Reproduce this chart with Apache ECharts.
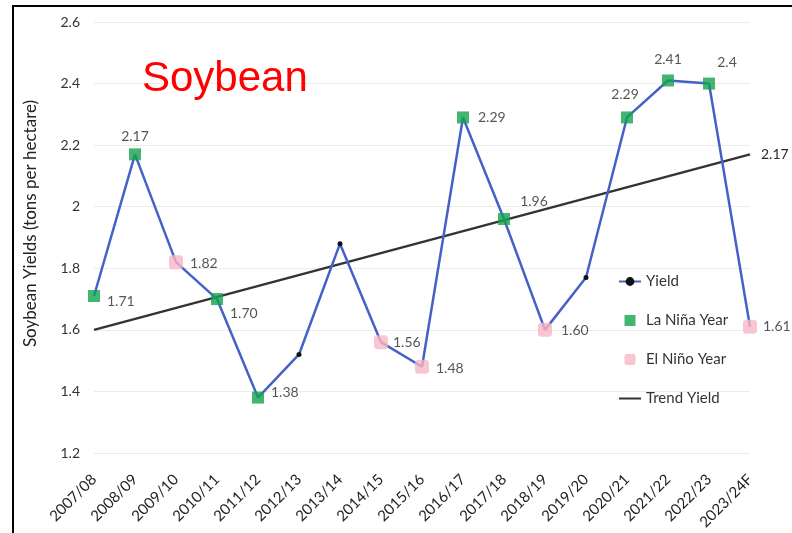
<!DOCTYPE html>
<html>
<head>
<meta charset="utf-8">
<script src="https://cdn.jsdelivr.net/npm/echarts@6/dist/echarts.min.js"></script>
<style>html,body{margin:0;padding:0;background:#fff}#c{width:792px;height:533px}</style>
</head>
<body>
<div id="c"></div>
<script>
const categories = ['2007/08','2008/09','2009/10','2010/11','2011/12','2012/13','2013/14','2014/15','2015/16','2016/17','2017/18','2018/19','2019/20','2020/21','2021/22','2022/23','2023/24F'];
const yieldValues = [1.71, 2.17, 1.82, 1.70, 1.38, 1.52, 1.88, 1.56, 1.48, 2.29, 1.96, 1.60, 1.77, 2.29, 2.41, 2.40, 1.61];
const laNinaValues = [1.71, 2.17, null, 1.70, 1.38, null, null, null, null, 2.29, 1.96, null, null, 2.29, 2.41, 2.40, null];
const elNinoValues = [null, null, 1.82, null, null, null, null, 1.56, 1.48, null, null, 1.60, null, null, null, null, 1.61];
const labelTexts = ['1.71','2.17','1.82','1.70','1.38',null,null,'1.56','1.48','2.29','1.96','1.60',null,'2.29','2.41','2.4','1.61'];
const trendValues = [1.60, null, null, null, null, null, null, null, null, null, null, null, null, null, null, null, 2.17];
const trendLabel = '2.17';
const yTicks = [1.2, 1.4, 1.6, 1.8, 2.0, 2.2, 2.4, 2.6];

// label placement per point (style only)
const labelPlace = {
  0: {position: 'right', offset: [2, 5]},
  1: {position: 'top', offset: [0, 0]},
  2: {position: 'right', offset: [2, 1]},
  3: {position: 'right', offset: [2, 14]},
  4: {position: 'right', offset: [2, -5]},
  7: {position: 'right', offset: [0, 0]},
  8: {position: 'right', offset: [2, 2]},
  9: {position: 'right', offset: [4, 0]},
  10: {position: 'top', offset: [30, 0]},
  11: {position: 'right', offset: [4, 1]},
  13: {position: 'top', offset: [-2, -5]},
  14: {position: 'top', offset: [0, -3]},
  15: {position: 'top', offset: [18, -3]},
  16: {position: 'right', offset: [1, 0]}
};

const FONT = 'Lato';
const labelStyle = {color: '#2a2a2a', fontSize: 14, fontFamily: FONT};

function markerData(vals) {
  return vals.map((v, i) => {
    if (v == null) return [categories[i], null];
    const lp = labelPlace[i] || {position: 'right', offset: [0, 0]};
    return {
      value: [categories[i], v],
      label: Object.assign({show: true, formatter: labelTexts[i]}, labelStyle, lp)
    };
  });
}
const yieldData = yieldValues.map((v, i) =>
  (laNinaValues[i] != null || elNinoValues[i] != null) ? {value: v, symbol: 'none'} : v);

const SQ = 'path://M0,0h10v10h-10z';
const RSQ = 'path://M2,0h6a2,2 0 0 1 2,2v6a2,2 0 0 1-2,2h-6a2,2 0 0 1-2-2v-6a2,2 0 0 1 2-2z';

const chart = echarts.init(document.getElementById('c'), null, {renderer: 'canvas'});
chart.setOption({
  animation: false,
  backgroundColor: '#fff',
  title: {
    text: 'Soybean', left: 137, top: 53,
    textStyle: {color: '#ff0000', fontSize: 42, fontWeight: 'normal', fontFamily: 'Liberation Sans'}
  },
  grid: {left: 94, right: 42, top: 22, bottom: 80, containLabel: false, outerBoundsMode: 'none'},
  legend: {
    orient: 'vertical', left: 618, top: 274, padding: 0, itemGap: 24, itemWidth: 22, itemHeight: 11,
    textStyle: {color: '#333', fontSize: 15, fontFamily: FONT},
    data: [
      {name: 'Yield'},
      {name: 'La Niña Year', icon: SQ},
      {name: 'El Niño Year', icon: RSQ},
      {name: 'Trend Yield', itemStyle: {opacity: 0}}
    ]
  },
  xAxis: {
    type: 'category', data: categories, boundaryGap: false,
    axisLine: {show: false}, axisTick: {show: false},
    axisLabel: {rotate: 45, margin: 24, color: '#222', fontSize: 15, fontFamily: FONT, interval: 0}
  },
  yAxis: {
    type: 'value', min: 1.2, max: 2.6, interval: 0.2,
    name: 'Soybean Yields (tons per hectare)', nameLocation: 'middle', nameGap: 55,
    nameTextStyle: {color: '#222', fontSize: 17, fontFamily: FONT, padding: [0, 0, 0, 28]},
    axisLine: {show: false}, axisTick: {show: false},
    axisLabel: {color: '#333', fontSize: 14, fontFamily: FONT, margin: 14,
      formatter: v => { const t = yTicks.find(x => Math.abs(x - v) < 1e-6); return t == null ? '' : String(+t.toFixed(1)); }},
    splitLine: {lineStyle: {color: '#ebebeb', width: 1}}
  },
  series: [
    {
      name: 'Trend Yield', type: 'line', data: trendValues, connectNulls: true,
      symbol: 'none', lineStyle: {color: '#333', width: 2.5}, itemStyle: {color: '#333'}, z: 2,
      label: {show: false},
      endLabel: {show: true, formatter: trendLabel, color: '#2a2a2a', fontSize: 14, fontFamily: FONT, distance: 11}
    },
    {
      name: 'Yield', type: 'line', data: yieldData,
      symbol: 'circle', symbolSize: 5,
      lineStyle: {color: '#4561c8', width: 2.5},
      itemStyle: {color: '#111'}, z: 3
    },
    {
      name: 'La Niña Year', type: 'scatter', data: markerData(laNinaValues),
      symbol: 'rect', symbolSize: 12, itemStyle: {color: '#13a34d'}, z: 4
    },
    {
      name: 'El Niño Year', type: 'scatter', data: markerData(elNinoValues),
      symbol: 'roundRect', symbolSize: 14, itemStyle: {color: '#f8b6c6'}, z: 4
    }
  ],
  graphic: [
    {type: 'line', shape: {x1: 13, y1: 6, x2: 13, y2: 533}, style: {stroke: '#000', lineWidth: 2}},
    {type: 'line', shape: {x1: 12, y1: 6, x2: 792, y2: 6}, style: {stroke: '#000', lineWidth: 2}}
  ]
});
</script>
</body>
</html>
